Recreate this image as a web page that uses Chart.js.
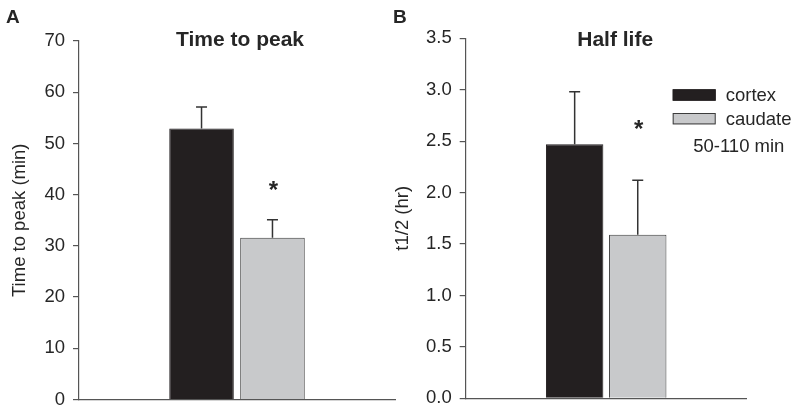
<!DOCTYPE html>
<html>
<head>
<meta charset="utf-8">
<script src="https://cdn.jsdelivr.net/npm/chart.js@4.4.0/dist/chart.umd.min.js"></script>
<style>
  html, body { margin: 0; padding: 0; background: #fff; }
  #wrap { position: relative; width: 800px; height: 413px; overflow: hidden; }
  canvas { position: absolute; top: 0; }
</style>
</head>
<body>
<div id="wrap">
  <canvas id="peakChart" width="400" height="413" style="left:0"></canvas>
  <canvas id="halfChart" width="420" height="413" style="left:380px"></canvas>
</div>
<script>
// de twee groepen
var groups = ['cortex', 'caudate'];
var groupColors = ['#231f20', '#c8c9cb'];

// A: time to peak (min)
var peakMean = [52.9, 31.6];
var peakErr = [4.2, 3.5];
var peakStar = 42.0; // hoogte van de * boven caudate

// B: half life (hr)
var halfMean = [2.47, 1.59];
var halfErr = [0.51, 0.53];
var halfStar = 2.68;

var FONT = 'Arial, "Liberation Sans", sans-serif';
var AXIS = '#555';
var TEXT = '#262626';

function makeDatasets(means, errs) {
  return groups.map(function (g, i) {
    return {
      label: g,
      data: [means[i]],
      errors: [errs[i]],
      backgroundColor: groupColors[i],
      borderColor: i === 0 ? '#231f20' : '#3c3c3c',
      borderWidth: 1,
      categoryPercentage: 0.449,
      barPercentage: 0.91
    };
  });
}

// tekent foutbalken, sterretje, titel, paneelletter en legenda
var extras = {
  id: 'extras',
  afterDatasetsDraw: function (chart, args, o) {
    var ctx = chart.ctx, y = chart.scales.y, area = chart.chartArea;
    ctx.save();
    chart.data.datasets.forEach(function (ds, i) {
      chart.getDatasetMeta(i).data.forEach(function (bar, j) {
        var top = y.getPixelForValue(ds.data[j] + ds.errors[j]);
        ctx.strokeStyle = '#333';
        ctx.lineWidth = 1.5;
        ctx.beginPath();
        ctx.moveTo(bar.x, bar.y);
        ctx.lineTo(bar.x, top);
        ctx.moveTo(bar.x - 5.5, top);
        ctx.lineTo(bar.x + 5.5, top);
        ctx.stroke();
      });
    });

    // sterretje boven caudate
    var cb = chart.getDatasetMeta(1).data[0];
    ctx.fillStyle = TEXT;
    ctx.font = 'bold 24px ' + FONT;
    ctx.textAlign = 'center';
    ctx.textBaseline = 'alphabetic';
    ctx.fillText('*', cb.x + 1, y.getPixelForValue(o.star) + 14);

    // titel
    ctx.font = 'bold 21px ' + FONT;
    ctx.fillText(o.title, (area.left + area.right) / 2 + o.titleDx, 46);

    // paneelletter
    ctx.font = 'bold 19px ' + FONT;
    ctx.textAlign = 'left';
    ctx.fillText(o.letter, o.letterX, 23);

    // legenda
    if (o.legend) {
      var lx = area.right - 74, ly = area.top + 51;
      ctx.font = '18.5px ' + FONT;
      ctx.textBaseline = 'middle';
      chart.data.datasets.forEach(function (ds, i) {
        var by = ly + i * 23.7;
        ctx.fillStyle = ds.backgroundColor;
        ctx.fillRect(lx, by, 43, 11.4);
        ctx.strokeStyle = ds.borderColor;
        ctx.lineWidth = 1;
        ctx.strokeRect(lx + 0.5, by + 0.5, 42, 10.4);
        ctx.fillStyle = TEXT;
        ctx.fillText(ds.label, lx + 53, by + 6.5);
      });
      ctx.fillText(o.note, lx + 20.5, ly + 58);
    }
    ctx.restore();
  }
};

function makeOptions(cfg) {
  return {
    responsive: false,
    animation: false,
    layout: { padding: cfg.padding },
    plugins: {
      legend: { display: false },
      tooltip: { enabled: false },
      extras: cfg.extras
    },
    scales: {
      x: {
        type: 'category',
        grid: { display: false },
        ticks: { display: false },
        border: { display: true, color: AXIS, width: 1.2 },
        afterFit: function (s) { s.height = 0; }
      },
      y: {
        min: 0,
        max: cfg.max,
        ticks: {
          stepSize: cfg.step,
          padding: 8,
          color: TEXT,
          font: { family: FONT, size: 18.5 },
          callback: cfg.tickFmt
        },
        grid: { display: true, drawOnChartArea: false, drawTicks: true, tickLength: 6, color: AXIS, lineWidth: 1.2 },
        border: { display: true, color: AXIS, width: 1.2 },
        title: {
          display: true,
          text: cfg.yTitle,
          color: TEXT,
          font: { family: FONT, size: 18.5 },
          padding: { top: cfg.titlePad, bottom: 0 }
        },
        afterFit: function (s) {
          s.width = cfg.yWidth;
          // labels mogen buiten het plotgebied steken
          s.paddingTop = 0;
          s.paddingBottom = 0;
        }
      }
    }
  };
}

new Chart(document.getElementById('peakChart'), {
  type: 'bar',
  data: { labels: [''], datasets: makeDatasets(peakMean, peakErr) },
  options: makeOptions({
    padding: { left: 0, right: 5, top: 41, bottom: 13.5 },
    max: 70, step: 10,
    tickFmt: function (v) { return v; },
    yTitle: 'Time to peak (min)',
    titlePad: 9,
    yWidth: 79,
    extras: { star: peakStar, title: 'Time to peak', titleDx: 3, letter: 'A', letterX: 6, legend: false }
  }),
  plugins: [extras]
});

new Chart(document.getElementById('halfChart'), {
  type: 'bar',
  data: { labels: [''], datasets: makeDatasets(halfMean, halfErr) },
  options: makeOptions({
    padding: { left: 0, right: 53.3, top: 38.3, bottom: 14.7 },
    max: 3.5, step: 0.5,
    tickFmt: function (v) { return Number(v).toFixed(1); },
    yTitle: 't1/2 (hr)',
    titlePad: 12,
    yWidth: 85.7,
    extras: { star: halfStar, title: 'Half life', titleDx: 9, letter: 'B', letterX: 13, legend: true, note: '50-110 min' }
  }),
  plugins: [extras]
});
</script>
</body>
</html>
